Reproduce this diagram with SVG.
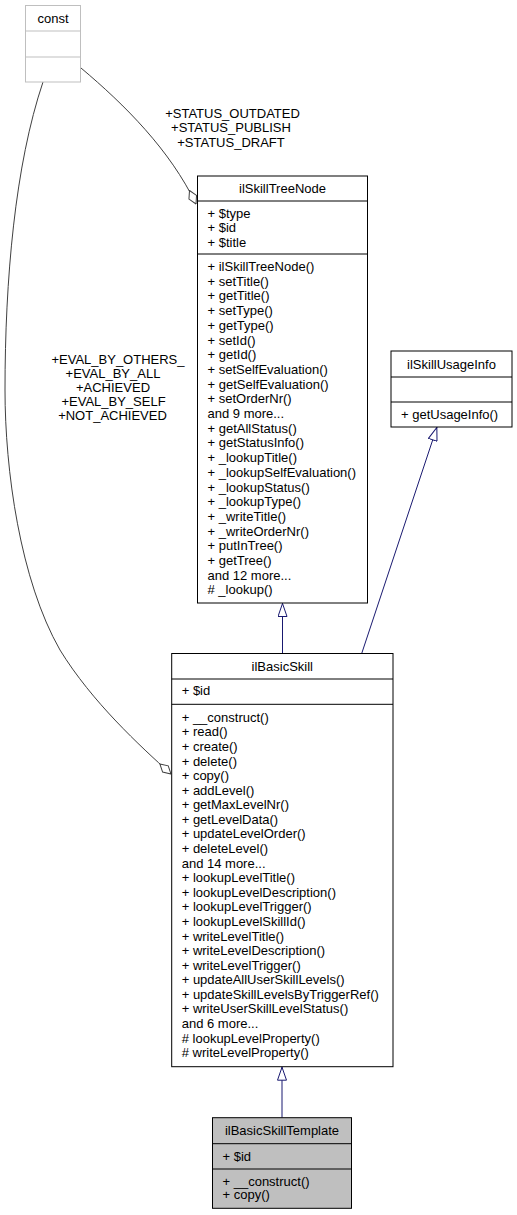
<svg xmlns="http://www.w3.org/2000/svg" width="517" height="1215" viewBox="0 0 517 1215">
<defs>
<style>
text{font-family:"Liberation Sans",Arial,Helvetica,sans-serif;font-size:13px;fill:#000}
.t{text-anchor:middle}
.box{fill:#fff;stroke:#000;stroke-width:1}
.sep{stroke:#000;stroke-width:1}
.gbox{fill:#fff;stroke:#bfbfbf;stroke-width:1}
.gsep{stroke:#bfbfbf;stroke-width:1}
.cur{fill:#bfbfbf;stroke:#000;stroke-width:1}
.use{fill:none;stroke:#404040;stroke-width:1}
.inh{fill:none;stroke:#191970;stroke-width:1}
</style>
<marker id="tri" viewBox="0 0 14 10" refX="14" refY="5" markerWidth="14" markerHeight="10" markerUnits="userSpaceOnUse" orient="auto">
<path d="M0.5,0.5 L13.5,5 L0.5,9.5 Z" fill="#fff" stroke="#191970" stroke-width="1"/>
</marker>
<marker id="dia" viewBox="0 0 16 10" refX="15.5" refY="5" markerWidth="16" markerHeight="10" markerUnits="userSpaceOnUse" orient="auto">
<path d="M0.5,5 L8,0.8 L15.5,5 L8,9.2 Z" fill="#fff" stroke="#404040" stroke-width="1"/>
</marker>
</defs>
<rect width="517" height="1215" fill="#fff"/>

<g id="connectors">
<path class="use" d="M81,68 C125,105 170,150 196,204" marker-end="url(#dia)"/>
<path class="use" d="M43,82 C15,165 5,280 5,390 C5,470 20,580 60,650 C92,702 140,746 171,774" marker-end="url(#dia)"/>
<path class="inh" d="M282.5,653.5 L282.5,603" marker-end="url(#tri)"/>
<path class="inh" d="M361.7,653.5 L437,427" marker-end="url(#tri)"/>
<path class="inh" d="M282,1117.7 L282,1066.7" marker-end="url(#tri)"/>
<g id="labels">
<text class="t" x="232.5" y="117.5">+STATUS_OUTDATED</text>
<text class="t" x="231" y="132">+STATUS_PUBLISH</text>
<text class="t" x="231" y="146.5">+STATUS_DRAFT</text>
<text class="t" x="118" y="364">+EVAL_BY_OTHERS_</text>
<text class="t" x="113" y="378">+EVAL_BY_ALL</text>
<text class="t" x="113" y="392">+ACHIEVED</text>
<text class="t" x="113.5" y="406">+EVAL_BY_SELF</text>
<text class="t" x="112.5" y="420">+NOT_ACHIEVED</text>
</g>
</g>

<g id="const">
<rect class="gbox" x="25.5" y="5.5" width="55" height="76.5"/>
<line class="gsep" x1="25.5" y1="31" x2="80.5" y2="31"/>
<line class="gsep" x1="25.5" y1="57" x2="80.5" y2="57"/>
<text class="t" x="53" y="22.5">const</text>
</g>

<g id="ilSkillTreeNode">
<rect class="box" x="197.5" y="176" width="170" height="427"/>
<line class="sep" x1="197.5" y1="201" x2="367.5" y2="201"/>
<line class="sep" x1="197.5" y1="254" x2="367.5" y2="254"/>
<text class="t" x="282.5" y="193">ilSkillTreeNode</text>
<text x="207.5" y="217.5">+ $type</text>
<text x="207.5" y="232">+ $id</text>
<text x="207.5" y="246.5">+ $title</text>
<text x="207.5" y="271">+ ilSkillTreeNode()</text>
<text x="207.5" y="285.7">+ setTitle()</text>
<text x="207.5" y="300.4">+ getTitle()</text>
<text x="207.5" y="315.1">+ setType()</text>
<text x="207.5" y="329.8">+ getType()</text>
<text x="207.5" y="344.5">+ setId()</text>
<text x="207.5" y="359.2">+ getId()</text>
<text x="207.5" y="373.9">+ setSelfEvaluation()</text>
<text x="207.5" y="388.6">+ getSelfEvaluation()</text>
<text x="207.5" y="403.3">+ setOrderNr()</text>
<text x="207.5" y="418">and 9 more...</text>
<text x="207.5" y="432.7">+ getAllStatus()</text>
<text x="207.5" y="447.4">+ getStatusInfo()</text>
<text x="207.5" y="462.1">+ _lookupTitle()</text>
<text x="207.5" y="476.8">+ _lookupSelfEvaluation()</text>
<text x="207.5" y="491.5">+ _lookupStatus()</text>
<text x="207.5" y="506.2">+ _lookupType()</text>
<text x="207.5" y="520.9">+ _writeTitle()</text>
<text x="207.5" y="535.6">+ _writeOrderNr()</text>
<text x="207.5" y="550.3">+ putInTree()</text>
<text x="207.5" y="565">+ getTree()</text>
<text x="207.5" y="579.7">and 12 more...</text>
<text x="207.5" y="594.4"># _lookup()</text>
</g>

<g id="ilSkillUsageInfo">
<rect class="box" x="391" y="351" width="121" height="76"/>
<line class="sep" x1="391" y1="377" x2="512" y2="377"/>
<line class="sep" x1="391" y1="402" x2="512" y2="402"/>
<text class="t" x="451.5" y="368.5">ilSkillUsageInfo</text>
<text x="401" y="419">+ getUsageInfo()</text>
</g>

<g id="ilBasicSkill">
<rect class="box" x="171.7" y="653.5" width="221.3" height="413.2"/>
<line class="sep" x1="171.7" y1="679" x2="393" y2="679"/>
<line class="sep" x1="171.7" y1="704.3" x2="393" y2="704.3"/>
<text class="t" x="282.3" y="670.7">ilBasicSkill</text>
<text x="181.7" y="695.2">+ $id</text>
<text x="181.7" y="721.8">+ __construct()</text>
<text x="181.7" y="736.4">+ read()</text>
<text x="181.7" y="751">+ create()</text>
<text x="181.7" y="765.5">+ delete()</text>
<text x="181.7" y="780.1">+ copy()</text>
<text x="181.7" y="794.7">+ addLevel()</text>
<text x="181.7" y="809.3">+ getMaxLevelNr()</text>
<text x="181.7" y="823.9">+ getLevelData()</text>
<text x="181.7" y="838.4">+ updateLevelOrder()</text>
<text x="181.7" y="853">+ deleteLevel()</text>
<text x="181.7" y="867.6">and 14 more...</text>
<text x="181.7" y="882.2">+ lookupLevelTitle()</text>
<text x="181.7" y="896.8">+ lookupLevelDescription()</text>
<text x="181.7" y="911.3">+ lookupLevelTrigger()</text>
<text x="181.7" y="925.9">+ lookupLevelSkillId()</text>
<text x="181.7" y="940.5">+ writeLevelTitle()</text>
<text x="181.7" y="955.1">+ writeLevelDescription()</text>
<text x="181.7" y="969.7">+ writeLevelTrigger()</text>
<text x="181.7" y="984.2">+ updateAllUserSkillLevels()</text>
<text x="181.7" y="998.8">+ updateSkillLevelsByTriggerRef()</text>
<text x="181.7" y="1013.4">+ writeUserSkillLevelStatus()</text>
<text x="181.7" y="1028">and 6 more...</text>
<text x="181.7" y="1042.6"># lookupLevelProperty()</text>
<text x="181.7" y="1057.1"># writeLevelProperty()</text>
</g>

<g id="ilBasicSkillTemplate">
<rect class="cur" x="212.5" y="1117.7" width="139" height="90.6"/>
<line class="sep" x1="212.5" y1="1143.7" x2="351.5" y2="1143.7"/>
<line class="sep" x1="212.5" y1="1169" x2="351.5" y2="1169"/>
<text class="t" x="282" y="1135.2">ilBasicSkillTemplate</text>
<text x="222.5" y="1160.8">+ $id</text>
<text x="222.5" y="1185.5">+ __construct()</text>
<text x="222.5" y="1199">+ copy()</text>
</g>
</svg>
